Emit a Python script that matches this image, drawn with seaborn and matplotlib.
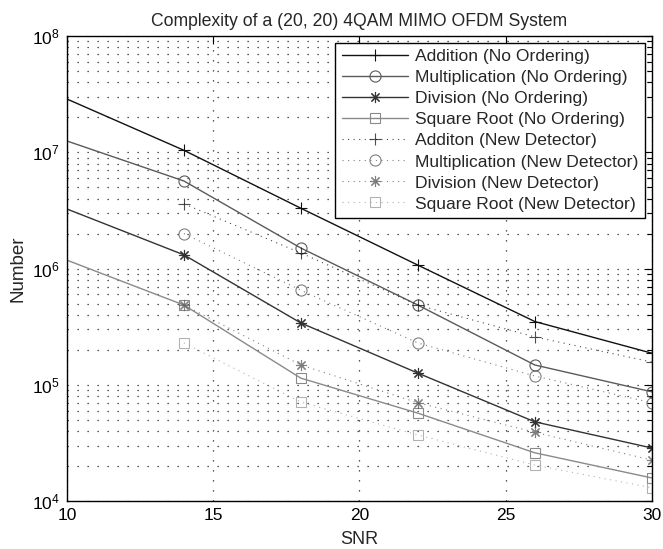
import numpy as np
import pandas as pd
import seaborn as sns
import matplotlib.pyplot as plt
from matplotlib.ticker import LogLocator, NullLocator

sns.set_theme(style="white")
plt.rcParams['font.family'] = ['Liberation Sans', 'DejaVu Sans']
plt.rcParams['mathtext.default'] = 'regular'

snr_full = [10, 14, 18, 22, 26, 30]
snr_new = [14, 18, 22, 26, 30]

# No Ordering (value at SNR 10 is where the line enters the axes, no marker drawn)
add_no = [2.87e7, 1.04e7, 3.3e6, 1.07e6, 3.5e5, 1.87e5]
mul_no = [1.25e7, 5.66e6, 1.5e6, 4.85e5, 1.48e5, 8.7e4]
div_no = [3.25e6, 1.31e6, 3.4e5, 1.26e5, 4.8e4, 2.86e4]
sqr_no = [1.18e6, 4.85e5, 1.14e5, 5.7e4, 2.6e4, 1.58e4]

# New Detector
add_new = [3.6e6, 1.36e6, 4.85e5, 2.58e5, 1.57e5]
mul_new = [2.0e6, 6.5e5, 2.29e5, 1.19e5, 7.0e4]
div_new = [4.85e5, 1.48e5, 7.0e4, 3.9e4, 2.25e4]
sqr_new = [2.29e5, 7.1e4, 3.7e4, 2.04e4, 1.3e4]

labels_no = ["Addition (No Ordering)", "Multiplication (No Ordering)",
             "Division (No Ordering)", "Square Root (No Ordering)"]
labels_new = ["Additon (New Detector)", "Multiplication (New Detector)",
              "Division (New Detector)", "Square Root (New Detector)"]

asterisk = (8, 2, 0)
markers = ["+", "o", asterisk, "s"]
msizes = [9, 8, 8, 6.5]
cols_no = ["#111111", "#5a5a5a", "#333333", "#8a8a8a"]
cols_new = ["#111111", "#555555", "#555555", "#999999"]

fig = plt.figure(figsize=(6.63, 5.49), dpi=100)
ax = fig.add_axes([0.101, 0.0874, 0.882, 0.8470])

for ys, lab, m, ms, c in zip([add_no, mul_no, div_no, sqr_no], labels_no, markers, msizes, cols_no):
    df = pd.DataFrame({"SNR": snr_full, "Number": ys})
    sns.lineplot(data=df, x="SNR", y="Number", ax=ax, color=c, linewidth=1.0,
                 marker=m, markevery=[1, 2, 3, 4, 5], markersize=ms,
                 markerfacecolor="none", markeredgecolor=c, markeredgewidth=0.8,
                 label=lab, estimator=None)

for ys, lab, m, ms, c in zip([add_new, mul_new, div_new, sqr_new], labels_new, markers, msizes, cols_new):
    df = pd.DataFrame({"SNR": snr_new, "Number": ys})
    sns.lineplot(data=df, x="SNR", y="Number", ax=ax, color=c, linewidth=0.8,
                 linestyle=(0, (1, 4)), alpha=0.75,
                 marker=m, markersize=ms,
                 markerfacecolor="none", markeredgecolor=c, markeredgewidth=0.8,
                 label=lab, estimator=None)

ax.set_yscale("log")
ax.set_xlim(10, 30)
ax.set_ylim(1e4, 1e8)
ax.set_xticks([10, 15, 20, 25, 30])
ax.xaxis.set_minor_locator(NullLocator())
ax.yaxis.set_major_locator(LogLocator(base=10, numticks=10))
ax.yaxis.set_minor_locator(LogLocator(base=10, subs=np.arange(2, 10), numticks=20))

ax.grid(True, which="major", axis="both", color="#222222", linestyle=(0, (1, 7)), linewidth=0.9)
ax.grid(True, which="minor", axis="y", color="#222222", linestyle=(0, (1, 7)), linewidth=0.9)
ax.tick_params(which="both", direction="in", top=True, right=True, colors="black",
               labelsize=12.5)
ax.tick_params(which="major", length=6, width=0.8, pad=5)
ax.tick_params(which="minor", length=3.5, width=0.8)
for s in ax.spines.values():
    s.set_color("black")
    s.set_linewidth(1.0)

ax.set_title("Complexity of a (20, 20) 4QAM MIMO OFDM System", fontsize=12.7, pad=7)
ax.set_xlabel("SNR", fontsize=13, labelpad=6)
ax.set_ylabel("Number", fontsize=13.5, labelpad=4)

leg = ax.legend(loc="upper right", fontsize=12.6, frameon=True, fancybox=False,
                edgecolor="black", framealpha=1, handlelength=3.8, labelspacing=0.33,
                borderpad=0.35, handletextpad=0.4, borderaxespad=0.4)
leg.get_frame().set_linewidth(1.0)

fig.savefig("out.png", dpi=100)
